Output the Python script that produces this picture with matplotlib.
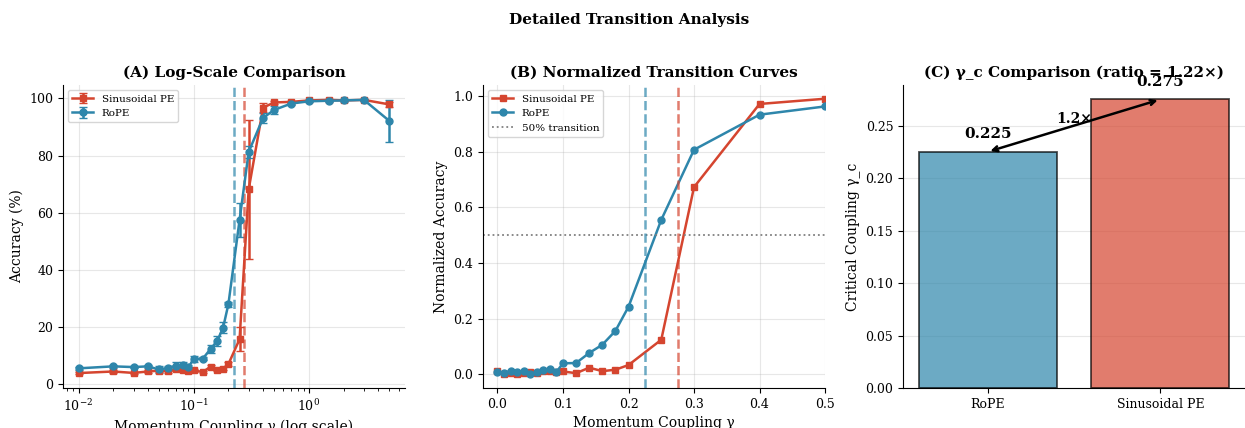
import numpy as np
import matplotlib.pyplot as plt

plt.rcParams['font.family'] = 'DejaVu Serif'
plt.rcParams['font.size'] = 9

# coupling strengths scanned
gamma = [0.0, 0.01, 0.02, 0.03, 0.04, 0.05, 0.06, 0.07, 0.08, 0.09, 0.10,
         0.12, 0.14, 0.16, 0.18, 0.20, 0.25, 0.30, 0.40, 0.50, 0.70,
         1.0, 1.5, 2.0, 3.0, 5.0]

# accuracy (%) mean and std over seeds
acc_sin = [5.0, 3.85, 4.4, 3.9, 4.4, 4.7, 4.4, 5.1, 4.8, 4.7, 4.8,
           4.2, 6.1, 4.9, 5.4, 7.0, 15.7, 68.2, 96.8, 98.6, 98.8,
           99.3, 99.5, 99.3, 99.5, 97.9]
std_sin = [0.5, 0.4, 0.4, 0.4, 0.5, 0.5, 0.5, 0.6, 0.6, 0.5, 0.5,
           0.5, 0.6, 0.5, 0.6, 0.7, 4.2, 24.4, 1.5, 0.5, 0.4,
           0.3, 0.3, 0.3, 0.3, 1.0]
acc_rope = [6.0, 5.5, 6.2, 5.95, 6.2, 5.1, 5.7, 6.4, 6.8, 5.9, 8.8,
            8.9, 12.3, 15.1, 19.8, 28.0, 57.5, 81.3, 93.2, 96.0, 98.2,
            99.0, 99.2, 99.3, 99.5, 92.1]
std_rope = [0.6, 0.5, 0.5, 0.5, 0.5, 1.2, 0.6, 1.3, 1.0, 0.7, 1.2,
            0.6, 1.3, 1.6, 1.8, 0.9, 6.0, 2.2, 1.8, 1.4, 0.6,
            0.4, 0.4, 0.4, 0.4, 7.4]

# critical couplings
methods = ['RoPE', 'Sinusoidal PE']
gamma_c = [0.225, 0.275]

c_sin = '#D5452F'
c_rope = '#2E86AB'

gamma = np.array(gamma)
acc_sin = np.array(acc_sin)
acc_rope = np.array(acc_rope)


def normalize(a):
    return (a - a.min()) / (a.max() - a.min())


fig = plt.figure(figsize=(12.45, 4.28), dpi=100)
ax1 = fig.add_axes([0.0506, 0.0935, 0.2747, 0.708])
ax2 = fig.add_axes([0.3880, 0.0935, 0.2747, 0.708])
ax3 = fig.add_axes([0.7253, 0.0935, 0.2747, 0.708])

# (A) log scale with error bars
pos = gamma > 0
ax1.errorbar(gamma[pos], acc_sin[pos], yerr=np.array(std_sin)[pos], color=c_sin,
             marker='s', markersize=5, linewidth=1.8, capsize=3, label='Sinusoidal PE')
ax1.errorbar(gamma[pos], acc_rope[pos], yerr=np.array(std_rope)[pos], color=c_rope,
             marker='o', markersize=5, linewidth=1.8, capsize=3, label='RoPE')
ax1.axvline(gamma_c[0], color=c_rope, linestyle='--', linewidth=1.8, alpha=0.7)
ax1.axvline(gamma_c[1], color=c_sin, linestyle='--', linewidth=1.8, alpha=0.7)
ax1.set_xscale('log')
ax1.set_xlabel('Momentum Coupling γ (log scale)', fontsize=10)
ax1.set_ylabel('Accuracy (%)', fontsize=10)
ax1.set_title('(A) Log-Scale Comparison', fontweight='bold', fontsize=11)
ax1.legend(loc='upper left', fontsize=7.5)

# (B) normalized curves on linear scale
lin = gamma <= 0.5
ax2.plot(gamma[lin], normalize(acc_sin)[lin], color=c_sin, marker='s', markersize=5,
         linewidth=1.8, label='Sinusoidal PE')
ax2.plot(gamma[lin], normalize(acc_rope)[lin], color=c_rope, marker='o', markersize=5,
         linewidth=1.8, label='RoPE')
ax2.axhline(0.5, color='gray', linestyle=':', linewidth=1.3, label='50% transition')
ax2.axvline(gamma_c[0], color=c_rope, linestyle='--', linewidth=1.8, alpha=0.7)
ax2.axvline(gamma_c[1], color=c_sin, linestyle='--', linewidth=1.8, alpha=0.7)
ax2.set_xlim(-0.022, 0.5)
ax2.set_xlabel('Momentum Coupling γ', fontsize=10)
ax2.set_ylabel('Normalized Accuracy', fontsize=10)
ax2.set_title('(B) Normalized Transition Curves', fontweight='bold', fontsize=11)
ax2.legend(loc='upper left', fontsize=7.5)

# (C) critical coupling bars
bars = ax3.bar(methods, gamma_c, color=[c_rope, c_sin], alpha=0.7,
               edgecolor='black', linewidth=1.3)
for b, v in zip(bars, gamma_c):
    ax3.text(b.get_x() + b.get_width() / 2, v + 0.01, f'{v:.3f}',
             ha='center', va='bottom', fontweight='bold', fontsize=11)
ax3.annotate('', xy=(0, gamma_c[0]), xytext=(1, gamma_c[1]),
             arrowprops=dict(arrowstyle='<->', color='black', lw=1.8))
ratio = gamma_c[1] / gamma_c[0]
ax3.text(0.5, (gamma_c[0] + gamma_c[1]) / 2, f'{ratio:.1f}×', ha='center', va='bottom',
         fontweight='bold', fontsize=10)
ax3.set_ylabel('Critical Coupling γ_c', fontsize=10)
ax3.set_title(f'(C) γ_c Comparison (ratio = {ratio:.2f}×)', fontweight='bold', fontsize=11)

for ax in (ax1, ax2, ax3):
    ax.grid(True, alpha=0.3)
    ax.spines['top'].set_visible(False)
    ax.spines['right'].set_visible(False)
ax3.set_axisbelow(True)
ax3.grid(True, axis='y', alpha=0.3)
ax3.grid(False, axis='x')

fig.suptitle('Detailed Transition Analysis', fontweight='bold', fontsize=11,
             x=0.505, y=0.97)

fig.savefig('out.png', dpi=100)
